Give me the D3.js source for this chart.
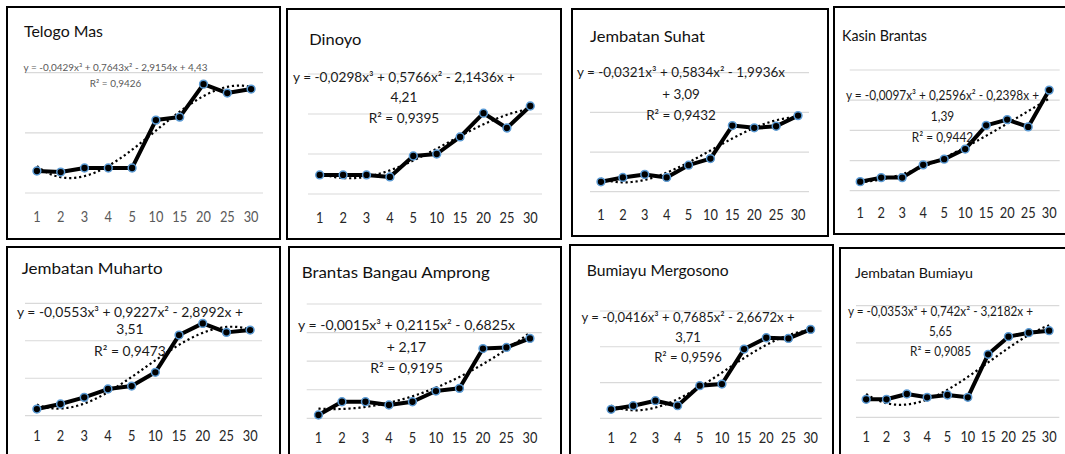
<!DOCTYPE html>
<html><head><meta charset="utf-8">
<script src="https://cdn.jsdelivr.net/npm/d3@7"></script>
<style>body{margin:0;background:#fff;overflow:hidden;} svg{display:block;}</style>
</head><body>
<script>
// ---------- data ----------
const categories = ["1","2","3","4","5","10","15","20","25","30"];
const siteNames = ["Telogo Mas","Dinoyo","Jembatan Suhat","Kasin Brantas",
                   "Jembatan Muharto","Brantas Bangau Amprong","Bumiayu Mergosono","Jembatan Bumiayu"];

const telogoMas            = [1.83,1.74,2.08,2.08,2.08,6.06,6.31,9.05,8.31,8.64];
const dinoyo               = [2.38,2.38,2.38,2.13,4.75,5.00,7.13,10.1,8.25,11.0];
const jembatanSuhat        = [1.25,1.80,2.18,1.80,3.34,4.18,8.34,8.05,8.25,9.59];
const kasinBrantas         = [1.50,2.17,2.17,4.28,5.23,6.90,10.83,11.78,10.57,16.67];
const jembatanMuharto      = [0.89,1.56,2.45,3.56,3.96,5.79,10.76,12.32,11.12,11.43];
const brantasBangauAmprong = [0.58,2.90,2.90,2.33,2.90,4.77,5.24,12.2,12.4,13.98];
const bumiayuMergosono     = [1.26,1.76,2.46,1.76,4.56,4.79,9.68,11.26,11.17,12.43];
const jembatanBumiayu      = [2.42,2.42,3.13,2.69,3.00,2.69,8.47,10.84,11.37,11.64];

// cubic trendline coefficients as printed on the chart [x^3, x^2, x, const]
const fitTelogoMas            = [-0.0429,0.7643,-2.9154,4.43];
const fitDinoyo               = [-0.0298,0.5766,-2.1436,4.21];
const fitJembatanSuhat        = [-0.0321,0.5834,-1.9936,3.09];
const fitKasinBrantas         = [-0.0097,0.2596,-0.2398,1.39];
const fitJembatanMuharto      = [-0.0553,0.9227,-2.8992,3.51];
const fitBrantasBangauAmprong = [-0.0015,0.2115,-0.6825,2.17];
const fitBumiayuMergosono     = [-0.0416,0.7685,-2.6672,3.71];
const fitJembatanBumiayu      = [-0.0353,0.742,-3.2182,5.65];

// gridline values (hidden value axis)
const gridTicks = [[0,5,10],[0,5,10,15],[0,5,10,15],[0,5,10,15,20],
                   [0,5,10,15],[0,5,10,15,20],[0,5,10,15],[0,5,10,15]];

const equationLines = [
  ["y = -0,0429x³ + 0,7643x² - 2,9154x + 4,43","R² = 0,9426"],
  ["y = -0,0298x³ + 0,5766x² - 2,1436x +","4,21","R² = 0,9395"],
  ["y = -0,0321x³ + 0,5834x² - 1,9936x","+ 3,09","R² = 0,9432"],
  ["y = -0,0097x³ + 0,2596x² - 0,2398x +","1,39","R² = 0,9442"],
  ["y = -0,0553x³ + 0,9227x² - 2,8992x +","3,51","R² = 0,9473"],
  ["y = -0,0015x³ + 0,2115x² - 0,6825x","+ 2,17","R² = 0,9195"],
  ["y = -0,0416x³ + 0,7685x² - 2,6672x +","3,71","R² = 0,9596"],
  ["y = -0,0353x³ + 0,742x² - 3,2182x +","5,65","R² = 0,9085"]
];

const seriesList = [telogoMas,dinoyo,jembatanSuhat,kasinBrantas,jembatanMuharto,brantasBangauAmprong,bumiayuMergosono,jembatanBumiayu];
const fitList = [fitTelogoMas,fitDinoyo,fitJembatanSuhat,fitKasinBrantas,fitJembatanMuharto,fitBrantasBangauAmprong,fitBumiayuMergosono,fitJembatanBumiayu];

// ---------- layout (positions / styles only) ----------
const layout = [
 {box:[7,7,280,239],   title:[24,37,79,16],     plot:[25,263,193,72.7],     pad:17.2, eq:{cx:115.5,y:[70.7,87.3],w:184,fs:10,color:"#595959"}, tick:"#595959"},
 {box:[287,9,561,239], title:[309.3,45,52,16],  plot:[308,542,194,74],      pad:17.2, eq:{cx:404,y:[81.7,101.7,122.7],w:222,fs:13.5}},
 {box:[572,9,828,236], title:[590,42.3,115,15], plot:[590,809,191.7,72.7],  pad:16.7, eq:{cx:681,y:[77.3,99,120],w:208,fs:13.5}},
 {box:[834,7,1072,234],title:[842,40.7,85,16],  plot:[849.7,1059.7,190.7,70],pad:16.2, eq:{cx:942.5,y:[100,120.7,141.7],w:193,fs:13.5}},
 {box:[7,247,280,462], title:[21.7,274.3,141,15.5], plot:[25,262,415.7,303.3], pad:13.8, eq:{cx:130,y:[316.7,334.3,355.7],w:226,fs:13.5}},
 {box:[289,247,561,462],title:[301.7,278.3,188,16], plot:[306.7,541.7,418.3,304], pad:13.5, eq:{cx:406.5,y:[330,352.3,373.3],w:217,fs:13.5}},
 {box:[570,245,833,462],title:[586.7,275.7,142,15], plot:[600,821.7,418.3,311], pad:13.5, eq:{cx:688,y:[322.3,342.3,361.7],w:213,fs:13.5}},
 {box:[840,248,1072,462],title:[855,277.7,118,14],  plot:[856,1059.3,417.3,305.7], pad:13.5, eq:{cx:940.5,y:[315.7,335.7,355.7],w:185,fs:13}}
];

const FONT = "Lato, 'Open Sans', sans-serif";
const svg = d3.select("body").append("svg").attr("width",1065).attr("height",454);

siteNames.forEach((name,i)=>{
  const L = layout[i], vals = seriesList[i], fit = fitList[i];
  const g = svg.append("g");
  g.append("rect").attr("x",L.box[0]).attr("y",L.box[1])
    .attr("width",L.box[2]-L.box[0]).attr("height",L.box[3]-L.box[1])
    .attr("fill","#fff").attr("stroke","#000").attr("stroke-width",2);

  const x = d3.scaleBand().domain(categories).range([L.plot[0],L.plot[1]]);
  const y = d3.scaleLinear().domain([0,d3.max(gridTicks[i])]).range([L.plot[2],L.plot[3]]);
  const xc = c => x(c) + x.bandwidth()/2;

  // gridlines
  g.selectAll("line.grid").data(gridTicks[i]).join("line").attr("class","grid")
    .attr("x1",L.plot[0]).attr("x2",L.plot[1])
    .attr("y1",d=>y(d)).attr("y2",d=>y(d))
    .attr("stroke","#d9d9d9").attr("stroke-width",1.2);

  // category axis
  const ax = g.append("g").attr("transform",`translate(0,${L.plot[2]})`)
    .call(d3.axisBottom(x).tickSize(0).tickPadding(L.pad));
  ax.select(".domain").remove();
  ax.selectAll("text").attr("font-family",FONT).attr("font-size",16)
    .attr("fill",L.tick||"#262626")
    .each(function(){
      const n = this.getComputedTextLength();
      d3.select(this).attr("textLength",n*0.8).attr("lengthAdjust","spacingAndGlyphs");
    });

  // polynomial trendline (from printed equation), over category index 1..10
  const poly = t => ((fit[0]*t + fit[1])*t + fit[2])*t + fit[3];
  const idx = d3.range(1,10.0001,0.05);
  const xIdx = d3.scaleLinear().domain([1,categories.length]).range([xc(categories[0]),xc(categories[categories.length-1])]);
  g.append("path").datum(idx)
    .attr("d",d3.line().x(t=>xIdx(t)).y(t=>y(poly(t))))
    .attr("fill","none").attr("stroke","#000").attr("stroke-width",2.2)
    .attr("stroke-dasharray","2.2,2.8");

  // data line
  const pts = categories.map((c,k)=>({c,v:vals[k]}));
  g.append("path").datum(pts)
    .attr("d",d3.line().x(d=>xc(d.c)).y(d=>y(d.v)))
    .attr("fill","none").attr("stroke","#000").attr("stroke-width",4)
    .attr("stroke-linejoin","round");
  g.selectAll("circle.pt").data(pts).join("circle").attr("class","pt")
    .attr("cx",d=>xc(d.c)).attr("cy",d=>y(d.v)).attr("r",3.9)
    .attr("fill","#000").attr("stroke","#5b9bd5").attr("stroke-width",1.5);

  // title
  g.append("text").attr("x",L.title[0]).attr("y",L.title[1])
    .attr("font-family",FONT).attr("font-size",L.title[3]).attr("fill","#111")
    .attr("textLength",L.title[2]).attr("lengthAdjust","spacingAndGlyphs")
    .text(name);

  // equation label
  const lines = equationLines[i];
  const texts = lines.map((s,k)=> g.append("text")
      .attr("x",L.eq.cx).attr("y",L.eq.y[k]).attr("text-anchor","middle")
      .attr("font-family",FONT).attr("font-size",L.eq.fs)
      .attr("fill",L.eq.color||"#1a1a1a").text(s));
  const nat0 = texts[0].node().getComputedTextLength();
  const ratio = nat0>0 ? L.eq.w/nat0 : 1;
  texts.forEach(t=>{
    const n = t.node().getComputedTextLength();
    t.attr("textLength",n*ratio).attr("lengthAdjust","spacingAndGlyphs");
  });
});
</script>
</body></html>
